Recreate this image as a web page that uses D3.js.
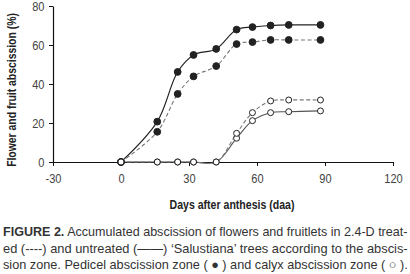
<!DOCTYPE html>
<html>
<head>
<meta charset="utf-8">
<script src="https://cdn.jsdelivr.net/npm/d3@7"></script>
<style>
  body { margin: 0; background: #fff; }
  svg { display: block; }
</style>
</head>
<body>
<svg id="drawing_region"></svg>
<script>
// data
const days_pedicel = [0, 16, 25, 32, 42, 51, 58, 66, 74, 88];
const untreated_pedicel = [0, 20.7, 46.2, 54.9, 58, 67.9, 69.2, 70, 70.3, 70.3];
const treated_pedicel = [0, 15.5, 34.9, 43.9, 49.2, 60.5, 61.5, 62.6, 62.6, 62.6];
const days_calyx = [0, 16, 25, 32, 42, 51, 58, 66, 74, 88];
const untreated_calyx = [0, 0, 0, 0, 0, 12.2, 21.2, 25.3, 25.8, 26.2];
const treated_calyx = [0, 0, 0, 0, 0, 14.7, 25.3, 31.3, 31.8, 31.8];
const xticks = [-30, 0, 30, 60, 90, 120];
const yticks = [0, 20, 40, 60, 80];

const caption_lines = [
    ["FIGURE 2.", " Accumulated abscission of flowers and fruitlets in 2.4-D treat-"],
    ["", "ed (----) and untreated (\u2014\u2014) \u2018Salustiana\u2019 trees according to the abscis-"],
    ["", "sion zone. Pedicel abscission zone ( \u25CF ) and calyx abscission zone ( \u25CB )."]
];

const series = [
    { x: days_pedicel, y: untreated_pedicel, dashed: false, filled: true },
    { x: days_pedicel, y: treated_pedicel, dashed: true, filled: true },
    { x: days_calyx, y: untreated_calyx, dashed: false, filled: false },
    { x: days_calyx, y: treated_calyx, dashed: true, filled: false }
];

const width = 410, height = 274;
const margin = {top: 6, right: 17, bottom: 112, left: 53};
const inner_width = width - margin.left - margin.right;
const inner_height = height - margin.top - margin.bottom;
const font = "'Liberation Sans', Arial, sans-serif";

const svg = d3.select('#drawing_region')
    .attr('width', width)
    .attr('height', height);

const chart = svg.append('g')
    .attr('transform', `translate(${margin.left}, ${margin.top})`);

const xscale = d3.scaleLinear().domain([-30, 120]).range([0, inner_width]);
const yscale = d3.scaleLinear().domain([0, 80]).range([inner_height, 0]);

const xaxis = d3.axisBottom(xscale).tickValues(xticks).tickSize(4).tickSizeOuter(0)
    .tickFormat(d => String(d));
const yaxis = d3.axisLeft(yscale).tickValues(yticks).tickSize(4).tickSizeOuter(0)
    .tickFormat(d => String(d));

const xg = chart.append('g')
    .attr('transform', `translate(0, ${inner_height})`)
    .call(xaxis);
const yg = chart.append('g').call(yaxis);

[xg, yg].forEach(g => {
    g.select('.domain').attr('stroke', '#111').attr('stroke-width', 1.2);
    g.selectAll('.tick line').attr('stroke', '#111');
    g.selectAll('.tick text')
        .attr('font-family', font)
        .attr('font-size', 13)
        .attr('fill', '#444')
        .attr('transform', 'scale(0.85,1)');
});
xg.selectAll('.tick text').attr('dy', '1.05em');
yg.selectAll('.tick text').attr('x', -10);

// lines
const line = d3.line()
    .x(d => xscale(d[0]))
    .y(d => yscale(d[1]))
    .curve(d3.curveCatmullRom.alpha(0.5));

series.forEach(s => {
    const pts = s.x.map((d, i) => [d, s.y[i]]);
    chart.append('path')
        .datum(pts)
        .attr('d', line)
        .attr('fill', 'none')
        .attr('stroke', s.dashed ? '#777' : (s.filled ? '#222' : '#555'))
        .attr('stroke-width', 1.1)
        .attr('stroke-dasharray', s.dashed ? '4,2.5' : null);
});

// markers
series.forEach(s => {
    const pts = s.x.map((d, i) => [d, s.y[i]]);
    chart.append('g').selectAll('circle')
        .data(pts)
        .enter()
        .append('circle')
        .attr('cx', d => xscale(d[0]))
        .attr('cy', d => yscale(d[1]))
        .attr('r', s.filled ? 3.4 : 3)
        .attr('fill', s.filled ? '#222' : '#fff')
        .attr('stroke', '#222')
        .attr('stroke-width', 1);
});

// squeeze a text to a given width (the original font is a condensed one)
function fit(t, w, pre) {
    const len = t.node().getComputedTextLength();
    t.attr('transform', `${pre} scale(${w / len},1)`);
}

// axis titles
const ylab = svg.append('text')
    .attr('text-anchor', 'middle')
    .attr('font-family', font)
    .attr('font-weight', 'bold')
    .attr('font-size', 12)
    .attr('fill', '#222')
    .text('Flower and fruit abscission (%)');
fit(ylab, 154, 'translate(16, 90) rotate(-90)');

const xlab = svg.append('text')
    .attr('text-anchor', 'middle')
    .attr('font-family', font)
    .attr('font-weight', 'bold')
    .attr('font-size', 12)
    .attr('fill', '#222')
    .text('Days after anthesis (daa)');
fit(xlab, 125, 'translate(232, 209)');

// caption
caption_lines.forEach((l, i) => {
    const t = svg.append('text')
        .attr('font-family', font)
        .attr('font-size', 13)
        .attr('fill', '#333');
    if (l[0]) t.append('tspan').attr('font-weight', 'bold').text(l[0]);
    t.append('tspan').text(l[1]);
    fit(t, 405, `translate(3, ${236 + i * 16.5})`);
});
</script>
</body>
</html>
